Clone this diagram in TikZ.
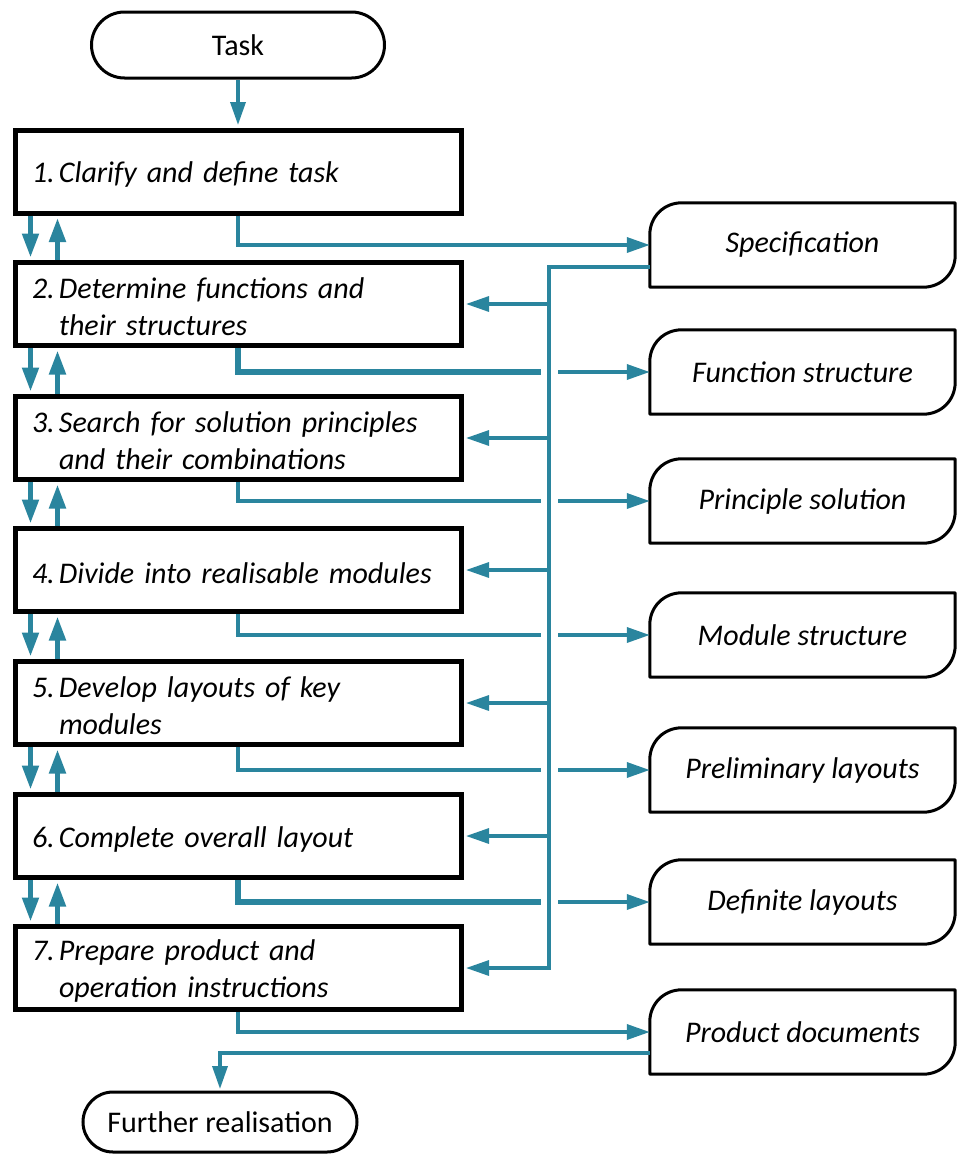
\documentclass[tikz,border=0pt]{standalone}
\usepackage{fontspec}
\setmainfont{Carlito}
\usetikzlibrary{arrows.meta,calc}
\definecolor{flowteal}{RGB}{42,133,158}
\newcommand{\stepno}[1]{\makebox[27pt][l]{#1}}
\newcommand{\stepindent}{\hspace*{27pt}}
% lower a text line a little without changing its reported size
\newcommand{\stepline}[1]{\raisebox{-3pt}[\height][\depth]{#1}}

\begin{document}
\begin{tikzpicture}[x=1pt,y=-1pt,
  every node/.style={font=\fontsize{30}{37}\selectfont},
  terminal/.style={draw, line width=3pt, inner sep=0pt},
  stepbox/.style={draw, line width=5pt, minimum width=446pt, minimum height=83pt,
    text width=412pt, align=left, inner xsep=17pt, inner ysep=0pt,
    font=\fontsize{30}{37}\selectfont\itshape},
  docnode/.style={minimum width=305pt, minimum height=84pt, inner sep=0pt,
    font=\fontsize{30}{37}\selectfont\itshape},
  docline/.style={line width=3pt, line join=round},
  link/.style={draw=flowteal, line width=3.5pt},
  linkarrow/.style={link, -{Triangle[length=23pt,width=15pt]}},
  steparrow/.style={draw=flowteal, line width=5pt, -{Triangle[length=24pt,width=16pt]}, shorten >=2.5pt},
  ]
\useasboundingbox (0,0) rectangle (957,1154);

% terminals
\node[terminal, minimum width=293pt, minimum height=66pt, rounded corners=33pt] (task) at (238,45) {Task};
\node[terminal, minimum width=274pt, minimum height=60pt, rounded corners=30pt] (fr) at (220,1122) {Further realisation};

% process steps
\node[stepbox] (b1) at (238,171.5) {\stepline{\stepno{1.}Clarify and define task}};
\node[stepbox] (b2) at (238,304) {\stepline{\stepno{2.}Determine functions and}\\\stepline{\stepindent their structures}};
\node[stepbox] (b3) at (238,438) {\stepline{\stepno{3.}Search for solution principles}\\\stepline{\stepindent and their combinations}};
\node[stepbox] (b4) at (238,570) {\stepline{\stepno{4.}Divide into realisable modules}};
\node[stepbox] (b5) at (238,703) {\stepline{\stepno{5.}Develop layouts of key}\\\stepline{\stepindent modules}};
\node[stepbox] (b6) at (238,836) {\stepline{\stepno{6.}Complete overall layout}};
\node[stepbox] (b7) at (238,968) {\stepline{\stepno{7.}Prepare product and}\\\stepline{\stepindent operation instructions}};

% results
\node[docnode] (spec) at (802.5,245) {Specification};
\node[docnode] (func) at (802.5,372) {Function structure};
\node[docnode] (princ) at (802.5,501) {Principle solution};
\node[docnode] (modu) at (802.5,635) {Module structure};
\node[docnode] (prel) at (802.5,770) {Preliminary layouts};
\node[docnode] (defi) at (802.5,902) {Definite layouts};
\node[docnode] (prod) at (802.5,1032) {Product documents};

% result outlines: rounded top-left and bottom-right corners
\foreach \n in {spec,func,princ,modu,prel,defi,prod}{
  \draw[docline] (\n.south west) -- ($(\n.north west)+(0,32)$)
    .. controls ($(\n.north west)+(0,14)$) and ($(\n.north west)+(14,0)$) .. ($(\n.north west)+(32,0)$)
    -- (\n.north east) -- ($(\n.south east)+(0,-32)$)
    .. controls ($(\n.south east)+(0,-14)$) and ($(\n.south east)+(-14,0)$) .. ($(\n.south east)+(-32,0)$)
    -- cycle;
}

% main flow
\draw[linkarrow, line width=3.5pt, shorten >=2.5pt] (task.south) -- (b1.north);
\foreach \i/\j in {1/2,2/3,3/4,4/5,5/6,6/7}{
  \draw[steparrow] ($(b\i.south west)+(18,0)$) -- ($(b\j.north west)+(18,0)$);
  \draw[steparrow] ($(b\j.north west)+(45,0)$) -- ($(b\i.south west)+(45,0)$);
}

% feedback bus from the specification
\coordinate (fbx) at (549,267);
\coordinate (specout) at ($(spec.west)+(0,22)$);
\draw[linkarrow, line width=3.2pt, shorten >=2.5pt] (specout) -| (fbx |- b7.east) -- (b7.east);
\foreach \i in {2,...,6}{
  \draw[linkarrow, line width=3.2pt, shorten >=2.5pt] (fbx |- b\i.east) -- (b\i.east);
}

% step outputs to results
\draw[linkarrow] (b1.south) |- (spec.west);
\foreach \i/\n/\w in {2/func/6pt,3/princ/4.5pt,4/modu/4.5pt,5/prel/4.5pt,6/defi/6pt}{
  \draw[link, line width=\w] (b\i.south) |- ($(fbx |- \n.west)+(-8,0)$);
  \draw[linkarrow] ($(fbx |- \n.west)+(9,0)$) -- (\n.west);
}
\draw[linkarrow] (b7.south) |- (prod.west);

% final output
\draw[linkarrow, shorten >=1.5pt] ($(prod.west)+(0,21)$) -| (fr.north);
\end{tikzpicture}
\end{document}
